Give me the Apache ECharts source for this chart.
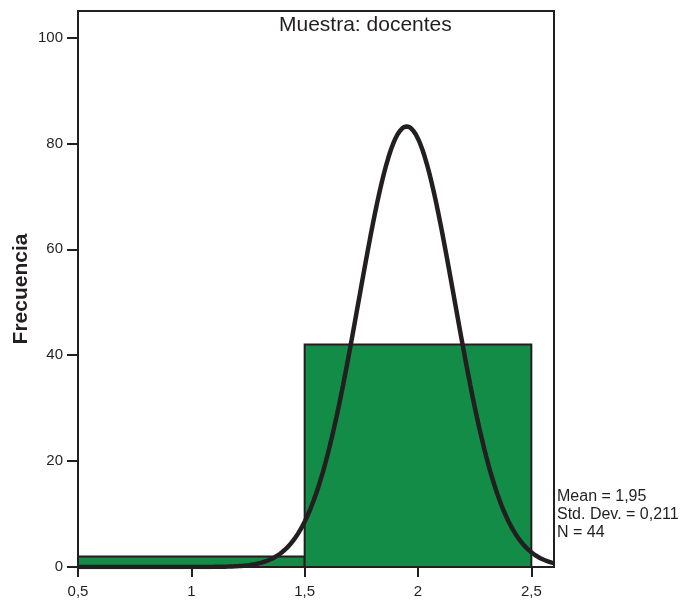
<!DOCTYPE html>
<html>
<head>
<meta charset="utf-8">
<script src="https://cdn.jsdelivr.net/npm/echarts@6/dist/echarts.min.js"></script>
<style>
  html, body { margin: 0; padding: 0; background: #fff; }
  #chart { width: 680px; height: 600px; }
</style>
</head>
<body>
<div id="chart"></div>
<script>
// Histogram bins: [start, end] and counts
const binStarts = [0.5, 1.5];
const binEnds = [1.5, 2.5];
const binCounts = [2, 42];

// Summary statistics of the sample
const sampleMean = 1.95;
const sampleSd = 0.211;
const sampleN = 44;
const binWidth = 1;

const xTicks = [0.5, 1, 1.5, 2, 2.5];
const yTicks = [0, 20, 40, 60, 80, 100];

const titleText = 'Muestra: docentes';
const statsLines = ['Mean = 1,95', 'Std. Dev. = 0,211', 'N = 44'];

// Fitted normal curve scaled to the histogram counts
const curve = [];
for (let i = 0; i <= 210; i++) {
  const x = 0.5 + i * 0.01;
  const z = (x - sampleMean) / sampleSd;
  const y = sampleN * binWidth * Math.exp(-0.5 * z * z) / (sampleSd * Math.sqrt(2 * Math.PI));
  curve.push([x, y]);
}

const bins = binStarts.map((s, i) => [s, binEnds[i], binCounts[i]]);

const ink = '#231f20';
const font = 'Liberation Sans, Arial, Helvetica, sans-serif';
const fmt = v => String(v).replace('.', ',');

const chart = echarts.init(document.getElementById('chart'), null, { renderer: 'canvas' });
chart.setOption({
  animation: false,
  backgroundColor: '#ffffff',
  grid: {
    left: 78, right: 126, top: 11, bottom: 33,
    outerBoundsMode: 'none', containLabel: false,
    show: true, borderColor: ink, borderWidth: 2, backgroundColor: 'transparent'
  },
  title: {
    text: titleText,
    left: 274, top: 10,
    textStyle: { fontFamily: font, fontSize: 21, fontWeight: 'normal', color: ink }
  },
  xAxis: {
    type: 'value', min: 0.5, max: 2.6,
    axisLine: { show: true, lineStyle: { color: ink, width: 2 } },
    axisTick: { show: true, length: 10, customValues: xTicks, lineStyle: { color: ink, width: 2 } },
    axisLabel: { customValues: xTicks, formatter: fmt, fontFamily: font, fontSize: 15, color: ink, margin: 17 },
    splitLine: { show: false }
  },
  yAxis: {
    type: 'value', min: 0, max: 105,
    name: 'Frecuencia', nameLocation: 'middle', nameGap: 46, nameMoveOverlap: false,
    nameTextStyle: { fontFamily: font, fontSize: 21, fontWeight: 'bold', color: ink },
    axisLine: { show: true, lineStyle: { color: ink, width: 2 } },
    axisTick: { show: true, length: 11, customValues: yTicks, lineStyle: { color: ink, width: 2 } },
    axisLabel: { customValues: yTicks, fontFamily: font, fontSize: 15, color: ink, margin: 15 },
    splitLine: { show: false }
  },
  graphic: [{
    type: 'text', left: 557, top: 488,
    style: { text: statsLines.join('\n'), fontFamily: font, fontSize: 16, lineHeight: 18, fill: ink }
  }],
  series: [
    {
      type: 'custom',
      data: bins,
      clip: true,
      renderItem: (params, api) => {
        const p0 = api.coord([api.value(0), api.value(2)]);
        const p1 = api.coord([api.value(1), 0]);
        return {
          type: 'rect',
          shape: { x: p0[0], y: p0[1], width: p1[0] - p0[0], height: p1[1] - p0[1] },
          style: { fill: '#128c47', stroke: ink, lineWidth: 2 }
        };
      },
      z: 2
    },
    {
      type: 'line',
      data: curve,
      showSymbol: false,
      smooth: false,
      clip: true,
      lineStyle: { color: ink, width: 4.5 },
      z: 3
    }
  ]
});
</script>
</body>
</html>
